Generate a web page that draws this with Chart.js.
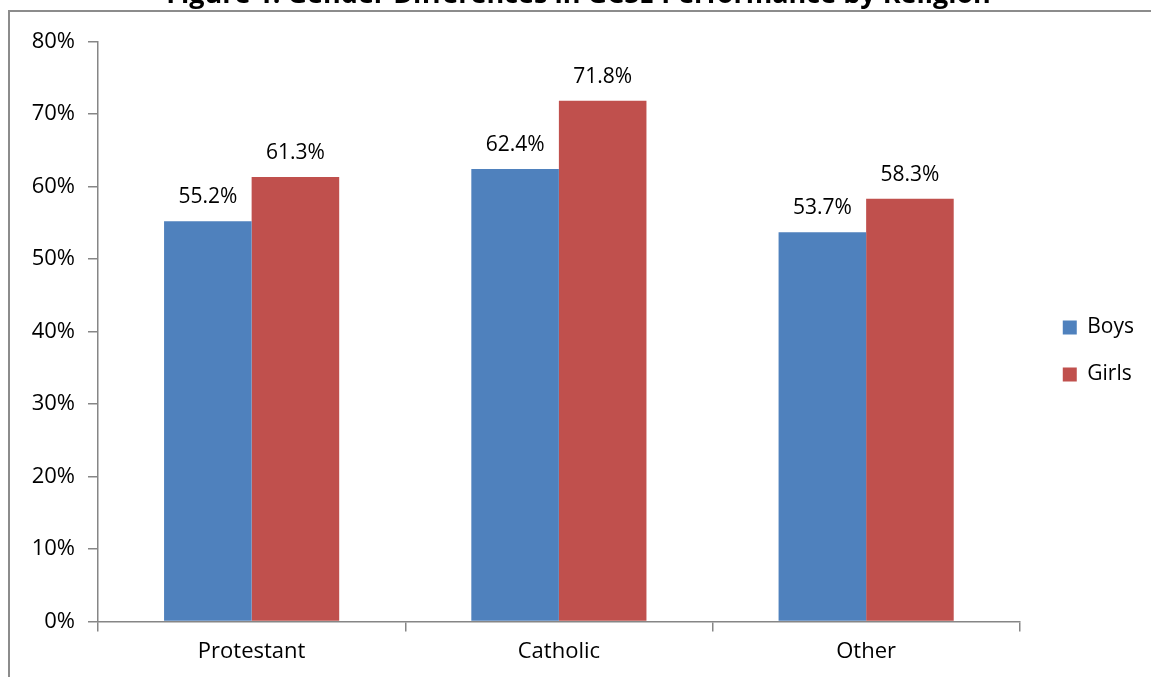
<!DOCTYPE html>
<html>
<head>
<meta charset="utf-8">
<title>Gender Differences in GCSE Performance by Religion</title>
<script src="https://cdn.jsdelivr.net/npm/chart.js@4.4.1/dist/chart.umd.min.js"></script>
<style>
    html, body { margin: 0; padding: 0; background: #fff; overflow: hidden; }
    #wrap { position: absolute; left: 0; top: -24px; width: 1151px; height: 701px; }
    #marco { position: absolute; left: 8px; top: 10px; width: 1200px; height: 720px;
             border-top: 2px solid #8c8c8c; border-left: 2px solid #8c8c8c; pointer-events: none; }
</style>
</head>
<body>
<div id="wrap"><canvas id="grafica"></canvas></div>
<div id="marco"></div>
<script>
// Datos de la gráfica
const categorias = ['Protestant', 'Catholic', 'Other'];
const valoresBoys = [55.2, 62.4, 53.7];
const valoresGirls = [61.3, 71.8, 58.3];
const ticksY = [0, 10, 20, 30, 40, 50, 60, 70, 80];
const titulo = 'Figure 1: Gender Differences in GCSE Performance by Religion';

const fuente = "'Open Sans', sans-serif";
const gris = '#868686';

// Plugin para escribir el valor encima de cada barra
const etiquetasValor = {
    id: 'etiquetasValor',
    afterDatasetsDraw(chart) {
        const ctx = chart.ctx;
        ctx.save();
        ctx.font = `21px ${fuente}`;
        ctx.fillStyle = '#000';
        ctx.textAlign = 'center';
        ctx.textBaseline = 'alphabetic';
        chart.data.datasets.forEach((ds, i) => {
            chart.getDatasetMeta(i).data.forEach((barra, j) => {
                ctx.fillText(ds.data[j].toFixed(1) + '%', barra.x, barra.y - 18);
            });
        });
        ctx.restore();
    }
};

// Mueve un poco la leyenda (separada del área de trazado, como en Excel)
const moverLeyenda = {
    id: 'moverLeyenda',
    afterLayout(chart) {
        const leyenda = chart.legend;
        if (!leyenda) return;
        leyenda.left += 17;
        leyenda.right += 17;
        leyenda.top += 27;
        leyenda.bottom += 27;
    }
};

document.addEventListener('DOMContentLoaded', () => {
    const ctx = document.getElementById('grafica').getContext('2d');
    new Chart(ctx, {
        type: 'bar',
        data: {
            labels: categorias,
            datasets: [
                { label: 'Boys', data: valoresBoys, backgroundColor: '#4F81BD' },
                { label: 'Girls', data: valoresGirls, backgroundColor: '#C0504D' },
            ],
        },
        options: {
            responsive: true,
            maintainAspectRatio: false,
            animation: false,
            datasets: { bar: { barPercentage: 1, categoryPercentage: 0.57 } },
            layout: { padding: { left: 30, right: 24, top: 0, bottom: 5 } },
            plugins: {
                tooltip: { enabled: false },
                title: {
                    display: true,
                    text: titulo,
                    color: '#000',
                    font: { family: fuente, size: 27, weight: 'bold' },
                    padding: { top: 3, bottom: 30 },
                },
                legend: {
                    position: 'right',
                    labels: {
                        color: '#000',
                        font: { family: fuente, size: 21 },
                        boxWidth: 14,
                        boxHeight: 14,
                        padding: 26,
                    },
                },
            },
            scales: {
                x: {
                    grid: { drawOnChartArea: false, color: gris, lineWidth: 1.5, tickLength: 10 },
                    border: { color: gris, width: 1.5 },
                    ticks: { color: '#000', padding: 7, font: { family: fuente, size: 22 } },
                },
                y: {
                    min: 0,
                    max: 80,
                    afterBuildTicks: escala => { escala.ticks = ticksY.map(v => ({ value: v })); },
                    afterFit: escala => { escala.width = 68; },
                    grid: { drawOnChartArea: false, color: gris, lineWidth: 1.5, tickLength: 10 },
                    border: { color: gris, width: 1.5 },
                    ticks: {
                        color: '#000',
                        padding: 13,
                        font: { family: fuente, size: 22 },
                        callback: v => v + '%',
                    },
                },
            },
        },
        plugins: [etiquetasValor, moverLeyenda],
    });
});
</script>
</body>
</html>
